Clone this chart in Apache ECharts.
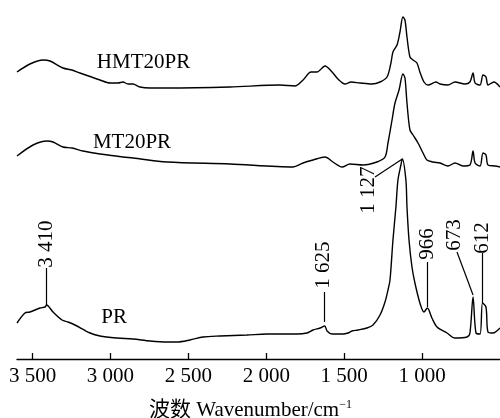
<!DOCTYPE html>
<html>
<head>
<meta charset="utf-8">
<script src="https://cdn.jsdelivr.net/npm/echarts@6/dist/echarts.min.js"></script>
<style>
  html, body { margin: 0; padding: 0; background: #fff; }
  #main { width: 500px; height: 418px; }
</style>
</head>
<body>
<div id="main"></div>
<script>
var font = "'Liberation Serif', 'Times New Roman', 'Noto Sans CJK SC', serif";

// x tick values (cm^-1)
var tickValues = [1000, 1500, 2000, 2500, 3000, 3500];

// spectra: [wavenumber, offset intensity]
var hmtData = [
  [3600, 287], [3517, 295], [3433, 299], [3388, 298], [3305, 291], [3247, 289],
  [3196, 286], [3067, 279], [3003, 276], [2952, 276], [2920, 277], [2888, 275],
  [2856, 275], [2811, 272], [2746, 271], [2637, 271], [2233, 272], [1912, 274],
  [1816, 273], [1764, 279], [1713, 287], [1675, 287], [1623, 293], [1578, 287],
  [1540, 280], [1495, 275], [1456, 277], [1399, 276], [1322, 275], [1270, 277],
  [1225, 282], [1200, 296], [1187, 307], [1161, 314], [1142, 327], [1123, 342],
  [1110, 339], [1097, 322], [1078, 302], [1058, 299], [1033, 296], [1014, 287],
  [988, 277], [962, 274], [911, 277], [885, 275], [834, 274], [789, 277],
  [725, 275], [693, 277], [673, 286], [660, 276], [628, 274], [609, 284],
  [590, 282], [577, 274], [539, 277], [500, 272]
];
var mtData = [
  [3600, 203], [3497, 214], [3407, 218], [3369, 217], [3305, 212], [3247, 211],
  [3176, 208], [3067, 205], [2920, 202], [2856, 201], [2637, 197], [2233, 195],
  [1829, 192], [1764, 196], [1700, 199], [1623, 202], [1572, 197], [1514, 192],
  [1463, 195], [1379, 194], [1290, 197], [1238, 202], [1219, 216], [1193, 239],
  [1174, 256], [1148, 269], [1123, 285], [1110, 281], [1097, 256], [1078, 229],
  [1058, 224], [1026, 216], [994, 206], [969, 199], [930, 197], [885, 196],
  [834, 193], [789, 196], [738, 193], [693, 194], [673, 208], [660, 196],
  [628, 193], [609, 206], [590, 204], [577, 194], [532, 193], [500, 192]
];
var prData = [
  [3600, 36], [3549, 46], [3517, 47], [3452, 51], [3420, 52], [3410, 54],
  [3369, 47], [3311, 39], [3273, 37], [3228, 34], [3131, 26], [3067, 23],
  [2958, 21], [2856, 20], [2746, 18], [2637, 17], [2573, 17], [2490, 19],
  [2406, 22], [2297, 23], [2124, 24], [1995, 25], [1803, 25], [1739, 26],
  [1700, 29], [1655, 31], [1625, 33], [1610, 28], [1578, 25], [1508, 25],
  [1476, 26], [1450, 28], [1411, 29], [1354, 31], [1315, 34], [1270, 44],
  [1238, 57], [1219, 69], [1206, 79], [1187, 119], [1168, 152], [1155, 179],
  [1136, 194], [1127, 200], [1104, 179], [1097, 152], [1084, 119], [1065, 92],
  [1046, 76], [1014, 56], [988, 47], [966, 51], [937, 41], [904, 32],
  [840, 26], [789, 21], [712, 22], [693, 26], [673, 62], [654, 26],
  [628, 25], [612, 56], [590, 52], [577, 27], [545, 26], [500, 31]
];

// peak labels on PR: text, leader line start, leader line end, text centre
var peakText = ['3 410', '1 625', '1 127', '966', '673', '612'];
var peakFrom = [[3410, 54], [1625, 37], [1127, 200], [966, 52], [673, 64], [612, 56]];
var peakTo = [[3410, 91], [1625, 67], [1302, 182], [966, 97], [776, 107], [612, 106]];
var peakLabelAt = [[3412, 115], [1632, 94], [1347, 169], [964, 115], [789, 124], [614, 121]];

// sample names and where they sit
var sampleNames = ['HMT20PR', 'MT20PR', 'PR'];
var sampleLabelAt = [[2788, 297], [2862, 217], [2977, 42]];

function fmtThousands(v) {
  var s = String(v);
  return s.length > 3 ? s.slice(0, s.length - 3) + ' ' + s.slice(-3) : s;
}

var myChart = echarts.init(document.getElementById('main'), null, { renderer: 'canvas' });

var lineStyle = { color: '#000', width: 1.4 };

function nameMark(i) {
  return {
    symbol: 'rect',
    symbolSize: 1,
    itemStyle: { color: 'rgba(0,0,0,0)' },
    label: {
      show: true,
      position: 'inside',
      formatter: sampleNames[i],
      color: '#000',
      fontFamily: font,
      fontSize: 21
    },
    data: [{ coord: sampleLabelAt[i] }]
  };
}

var peakLines = [];
var peakPoints = [];
for (var i = 0; i < peakText.length; i++) {
  peakLines.push([{ coord: peakFrom[i] }, { coord: peakTo[i] }]);
  peakPoints.push({
    coord: peakLabelAt[i],
    label: {
      show: true,
      position: 'inside',
      rotate: 90,
      formatter: peakText[i],
      color: '#000',
      fontFamily: font,
      fontSize: 21
    }
  });
}

var option = {
  animation: false,
  grid: { left: 17, right: 0, top: 0, bottom: 59, outerBoundsMode: 'none', containLabel: false },
  xAxis: {
    type: 'value',
    inverse: true,
    min: 500,
    max: 3600,
    interval: 500,
    name: '波数 Wavenumber/cm{sup|−1}',
    nameLocation: 'middle',
    nameGap: 40,
    nameTextStyle: {
      color: '#000',
      fontFamily: font,
      fontSize: 21,
      padding: [0, 16, 0, 0],
      rich: {
        sup: { fontFamily: font, fontSize: 12, verticalAlign: 'top', padding: [0, 0, 10, 0], color: '#000' }
      }
    },
    axisLine: { lineStyle: { color: '#000', width: 1.3 } },
    axisTick: { inside: true, length: 6, customValues: tickValues, lineStyle: { color: '#000', width: 1.3 } },
    axisLabel: {
      customValues: tickValues,
      margin: 7,
      color: '#000',
      fontFamily: font,
      fontSize: 21,
      formatter: fmtThousands
    },
    splitLine: { show: false }
  },
  yAxis: {
    type: 'value',
    min: 0,
    max: 359,
    show: false
  },
  series: [
    {
      name: 'HMT20PR',
      type: 'line',
      data: hmtData,
      showSymbol: false,
      smooth: 0.3,
      lineStyle: lineStyle,
      silent: true,
      markPoint: nameMark(0)
    },
    {
      name: 'MT20PR',
      type: 'line',
      data: mtData,
      showSymbol: false,
      smooth: 0.3,
      lineStyle: lineStyle,
      silent: true,
      markPoint: nameMark(1)
    },
    {
      name: 'PR',
      type: 'line',
      data: prData,
      showSymbol: false,
      smooth: 0.3,
      lineStyle: lineStyle,
      silent: true,
      markLine: {
        silent: true,
        symbol: 'none',
        label: { show: false },
        lineStyle: { color: '#000', width: 1.2, type: 'solid' },
        data: peakLines
      },
      markPoint: {
        symbol: 'rect',
        symbolSize: 1,
        itemStyle: { color: 'rgba(0,0,0,0)' },
        data: peakPoints.concat([{
          coord: sampleLabelAt[2],
          label: { show: true, position: 'inside', formatter: sampleNames[2], color: '#000', fontFamily: font, fontSize: 21 }
        }])
      }
    }
  ]
};

myChart.setOption(option);
window.addEventListener('resize', myChart.resize);
</script>
</body>
</html>
